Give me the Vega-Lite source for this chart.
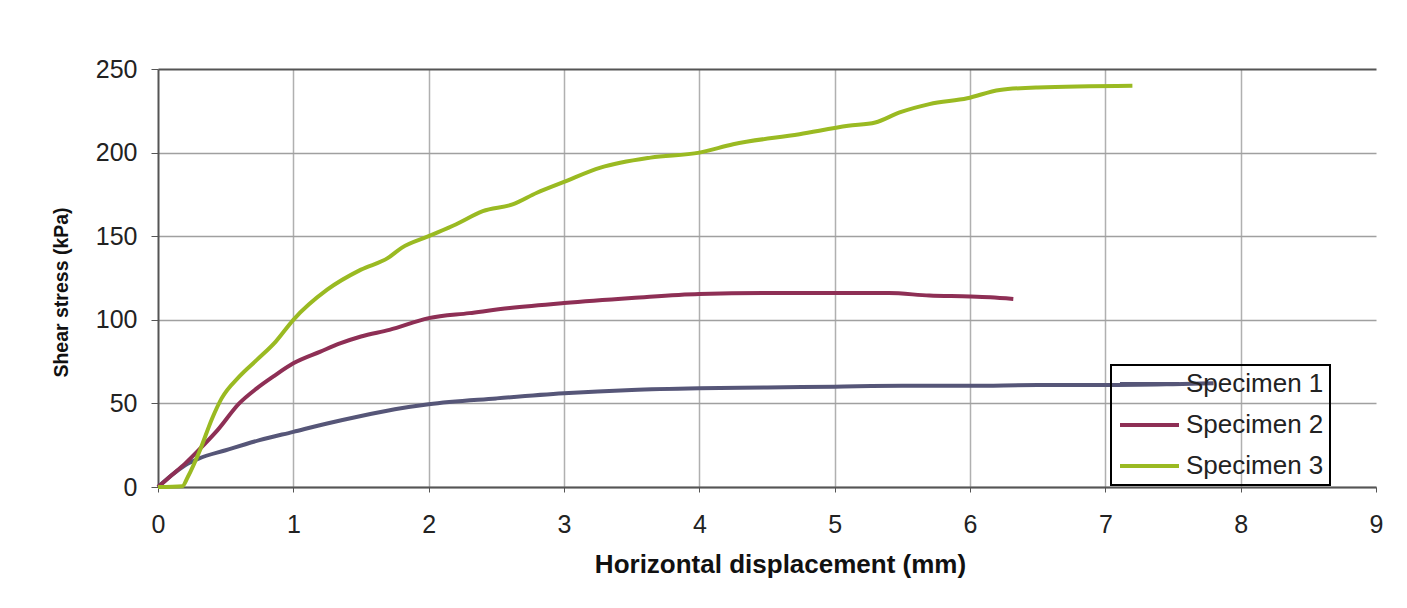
{
  "$schema": "https://vega.github.io/schema/vega-lite/v6.json",
  "width": 1218,
  "height": 418,
  "autosize": {"type": "none"},
  "padding": {"left": 158, "top": 69, "right": 31, "bottom": 121},
  "background": "white",
  "config": {"view": {"stroke": null}, "font": "Liberation Sans"},
  "data": {
    "values": [
      {"series": "Specimen 1", "x": 0, "y": 0},
      {"series": "Specimen 1", "x": 0.1, "y": 7},
      {"series": "Specimen 1", "x": 0.2, "y": 13},
      {"series": "Specimen 1", "x": 0.3, "y": 17},
      {"series": "Specimen 1", "x": 0.5, "y": 22},
      {"series": "Specimen 1", "x": 0.75, "y": 28},
      {"series": "Specimen 1", "x": 1, "y": 33},
      {"series": "Specimen 1", "x": 1.25, "y": 38},
      {"series": "Specimen 1", "x": 1.5, "y": 42.5},
      {"series": "Specimen 1", "x": 1.75, "y": 46.5},
      {"series": "Specimen 1", "x": 2, "y": 49.5},
      {"series": "Specimen 1", "x": 2.5, "y": 53},
      {"series": "Specimen 1", "x": 3, "y": 56},
      {"series": "Specimen 1", "x": 3.5, "y": 58},
      {"series": "Specimen 1", "x": 4, "y": 59},
      {"series": "Specimen 1", "x": 4.5, "y": 59.5},
      {"series": "Specimen 1", "x": 5, "y": 60},
      {"series": "Specimen 1", "x": 5.5, "y": 60.5},
      {"series": "Specimen 1", "x": 6, "y": 60.5},
      {"series": "Specimen 1", "x": 6.5, "y": 61},
      {"series": "Specimen 1", "x": 7, "y": 61},
      {"series": "Specimen 1", "x": 7.5, "y": 61.5},
      {"series": "Specimen 1", "x": 7.8, "y": 62},
      {"series": "Specimen 2", "x": 0, "y": 0},
      {"series": "Specimen 2", "x": 0.1, "y": 7},
      {"series": "Specimen 2", "x": 0.2, "y": 14},
      {"series": "Specimen 2", "x": 0.3, "y": 22},
      {"series": "Specimen 2", "x": 0.44, "y": 34},
      {"series": "Specimen 2", "x": 0.6, "y": 50},
      {"series": "Specimen 2", "x": 0.73, "y": 59},
      {"series": "Specimen 2", "x": 0.85, "y": 66},
      {"series": "Specimen 2", "x": 1.0, "y": 74},
      {"series": "Specimen 2", "x": 1.2, "y": 81},
      {"series": "Specimen 2", "x": 1.35, "y": 86},
      {"series": "Specimen 2", "x": 1.5, "y": 90},
      {"series": "Specimen 2", "x": 1.71, "y": 94},
      {"series": "Specimen 2", "x": 2.0, "y": 101},
      {"series": "Specimen 2", "x": 2.3, "y": 104},
      {"series": "Specimen 2", "x": 2.6, "y": 107},
      {"series": "Specimen 2", "x": 3.0, "y": 110},
      {"series": "Specimen 2", "x": 3.5, "y": 113},
      {"series": "Specimen 2", "x": 4.0, "y": 115.5},
      {"series": "Specimen 2", "x": 4.5, "y": 116},
      {"series": "Specimen 2", "x": 5.0, "y": 116},
      {"series": "Specimen 2", "x": 5.4, "y": 116},
      {"series": "Specimen 2", "x": 5.7, "y": 114.5},
      {"series": "Specimen 2", "x": 6.0, "y": 114},
      {"series": "Specimen 2", "x": 6.15, "y": 113.5},
      {"series": "Specimen 2", "x": 6.32, "y": 112.5},
      {"series": "Specimen 3", "x": 0, "y": 0},
      {"series": "Specimen 3", "x": 0.18, "y": 0.5},
      {"series": "Specimen 3", "x": 0.22, "y": 6},
      {"series": "Specimen 3", "x": 0.31, "y": 22},
      {"series": "Specimen 3", "x": 0.4, "y": 41},
      {"series": "Specimen 3", "x": 0.47, "y": 53},
      {"series": "Specimen 3", "x": 0.6, "y": 66},
      {"series": "Specimen 3", "x": 0.73, "y": 76},
      {"series": "Specimen 3", "x": 0.87, "y": 87},
      {"series": "Specimen 3", "x": 1.0, "y": 100},
      {"series": "Specimen 3", "x": 1.25, "y": 118},
      {"series": "Specimen 3", "x": 1.5, "y": 130},
      {"series": "Specimen 3", "x": 1.7, "y": 137},
      {"series": "Specimen 3", "x": 1.8, "y": 143},
      {"series": "Specimen 3", "x": 2.0, "y": 150},
      {"series": "Specimen 3", "x": 2.2, "y": 157},
      {"series": "Specimen 3", "x": 2.4, "y": 165},
      {"series": "Specimen 3", "x": 2.62, "y": 169},
      {"series": "Specimen 3", "x": 2.8, "y": 176},
      {"series": "Specimen 3", "x": 3.0, "y": 182.5},
      {"series": "Specimen 3", "x": 3.27, "y": 191},
      {"series": "Specimen 3", "x": 3.64, "y": 197},
      {"series": "Specimen 3", "x": 4.0, "y": 200},
      {"series": "Specimen 3", "x": 4.25, "y": 205},
      {"series": "Specimen 3", "x": 4.74, "y": 211},
      {"series": "Specimen 3", "x": 5.1, "y": 216},
      {"series": "Specimen 3", "x": 5.3, "y": 218},
      {"series": "Specimen 3", "x": 5.48, "y": 224},
      {"series": "Specimen 3", "x": 5.7, "y": 229},
      {"series": "Specimen 3", "x": 5.98, "y": 232.5},
      {"series": "Specimen 3", "x": 6.22, "y": 237.5},
      {"series": "Specimen 3", "x": 6.5, "y": 239},
      {"series": "Specimen 3", "x": 7.2, "y": 240}
    ]
  },
  "mark": {"type": "line", "strokeWidth": 4, "interpolate": "monotone"},
  "encoding": {
    "x": {
      "field": "x",
      "type": "quantitative",
      "scale": {"domain": [0, 9], "nice": false},
      "axis": {
        "title": "Horizontal displacement (mm)",
        "titleX": 622,
        "values": [0, 1, 2, 3, 4, 5, 6, 7, 8, 9],
        "format": "d",
        "grid": true,
        "gridColor": "#b0b0b0",
        "gridWidth": 1.5,
        "gridOpacity": {"condition": {"test": "datum.value == 9 || datum.value == 0", "value": 0}, "value": 1},
        "domainColor": "#555555",
        "domainWidth": 2,
        "tickColor": "#555555",
        "tickSize": 5,
        "labelFontSize": 25,
        "labelColor": "#222222",
        "labelPadding": 20,
        "labelFlush": false,
        "titleFontSize": 26,
        "titleFontWeight": "bold",
        "titleColor": "#111111",
        "titlePadding": 14
      }
    },
    "y": {
      "field": "y",
      "type": "quantitative",
      "scale": {"domain": [0, 250], "nice": false},
      "axis": {
        "title": "Shear stress (kPa)",
        "titleY": 223,
        "values": [0, 50, 100, 150, 200, 250],
        "grid": true,
        "gridColor": {"condition": {"test": "datum.value == 250", "value": "#555555"}, "value": "#a0a0a0"},
        "gridWidth": {"condition": {"test": "datum.value == 250", "value": 2}, "value": 1.5},
        "domainColor": "#555555",
        "domainWidth": 2,
        "tickColor": "#555555",
        "tickSize": 7,
        "labelFontSize": 25,
        "labelColor": "#222222",
        "labelPadding": 14,
        "titleFontSize": 19.5,
        "titleFontWeight": "bold",
        "titleColor": "#111111",
        "titlePadding": 24
      }
    },
    "color": {
      "field": "series",
      "type": "nominal",
      "scale": {"domain": ["Specimen 1", "Specimen 2", "Specimen 3"], "range": ["#565678", "#8e2f55", "#9aba22"]},
      "legend": {
        "orient": "none",
        "legendX": 953,
        "legendY": 296,
        "title": null,
        "strokeColor": "#000000",
        "padding": 6,
        "symbolType": "M-1,0H4.9",
        "symbolStrokeWidth": 4,
        "symbolSize": 400,
        "labelFontSize": 26,
        "labelColor": "#222222",
        "labelOffset": 43,
        "rowPadding": 15,
        "encode": {"legend": {"update": {"strokeWidth": {"value": 2}}}}
      }
    }
  }
}
